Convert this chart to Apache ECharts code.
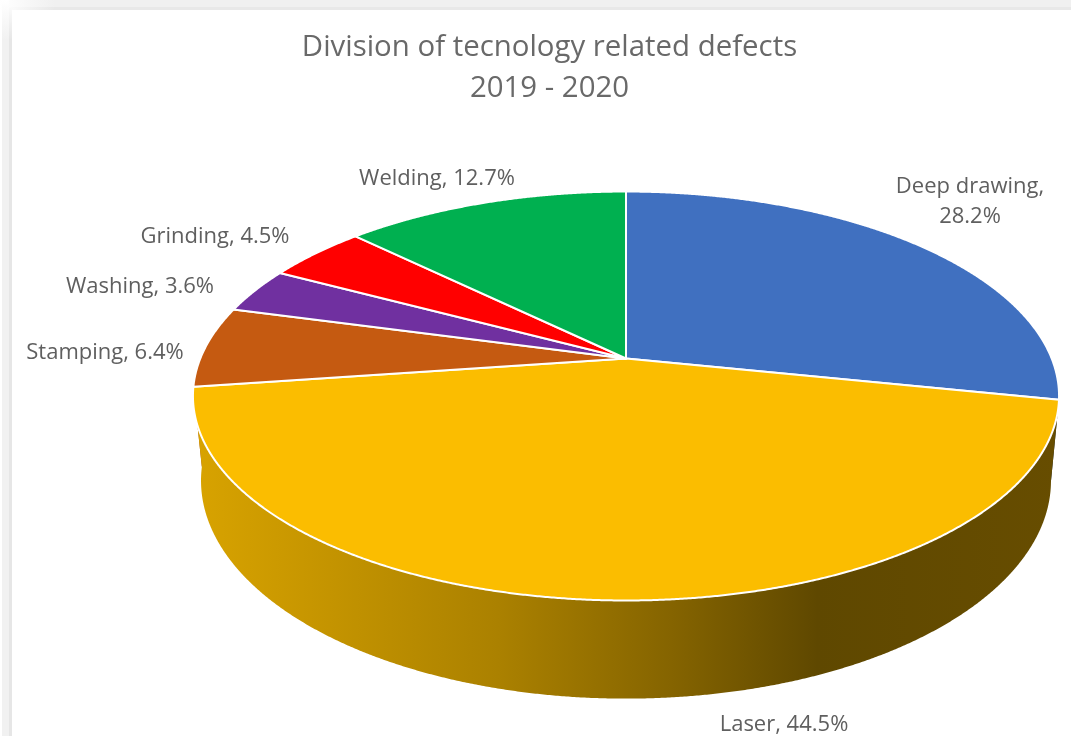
<!DOCTYPE html>
<html>
<head>
<meta charset="utf-8">
<style>html,body{margin:0;padding:0;background:#fff}#c{width:1071px;height:736px}</style>
<script src="https://cdn.jsdelivr.net/npm/echarts@6/dist/echarts.min.js"></script>
</head>
<body>
<div id="c"></div>
<script>
var categories = ['Deep drawing', 'Laser', 'Stamping', 'Washing', 'Grinding', 'Welding'];
var shares = [28.2, 44.5, 6.4, 3.6, 4.5, 12.7];
var colors = ['#4070C0', '#FBBD00', '#C55A11', '#7030A0', '#FF0000', '#00B050'];
var titleLines = ['Division of tecnology related defects', '2019 - 2020'];

// Perspective disc layout (top face and lower face of the cylinder)
var topFace = {cx: 626, cy: 358.5, a: 425.7, b: 197.6, k: 0.1834};
var lowFace = {cx: 626, cy: 437, a: 416.4, b: 209.3, k: 0.2};
// Label anchors, in category order; text is centred on them
var labelAnchors = [[970, 202], [784, 725], [105, 353], [140, 287], [215, 237], [437, 179]];
// Shading of the rim across the page, as brightness factors of the slice colour
var rimStops = [[0, 0.86], [0.35, 0.68], [0.55, 0.53], [0.72, 0.38], [1, 0.41]];

var total = shares.reduce(function (s, v) { return s + v; }, 0);
var starts = [];
shares.reduce(function (s, v, i) { starts[i] = s; return s + v; }, 0);

function project(face, theta) {
  var u = Math.sin(theta), v = Math.cos(theta), d = 1 + face.k * v;
  return [face.cx + face.a * u / d, face.cy - face.b * v / d];
}
function arc(face, t0, t1) {
  var n = Math.max(2, Math.ceil((t1 - t0) / 0.004)), pts = [];
  for (var i = 0; i <= n; i++) pts.push(project(face, t0 + (t1 - t0) * i / n));
  return pts;
}
function shade(hex, f) {
  var c = parseInt(hex.slice(1), 16);
  var ch = [(c >> 16) & 255, (c >> 8) & 255, c & 255].map(function (x) { return Math.round(x * f); });
  return 'rgb(' + ch.join(',') + ')';
}
function range(api) {
  var t0 = api.value(1) / total * 2 * Math.PI;
  return [t0, t0 + api.value(0) / total * 2 * Math.PI];
}
var sliceData = shares.map(function (v, i) { return {name: categories[i], value: [v, starts[i]]}; });

var option = {
  animation: false,
  backgroundColor: '#fff',
  title: {
    text: titleLines.join('\n'),
    left: 544.5, top: 22, textAlign: 'center',
    textStyle: {fontFamily: 'Open Sans', fontSize: 29.4, fontWeight: 'normal', color: '#696969', lineHeight: 41}
  },
  graphic: [
    {type: 'rect', silent: true, z: -10, shape: {x: 0, y: 0, width: 1071, height: 7},
      style: {fill: new echarts.graphic.LinearGradient(0, 0, 55, 0, [{offset: 0, color: '#fff'}, {offset: 1, color: '#f0f0f0'}], true)}},
    {type: 'rect', silent: true, z: -10, shape: {x: 0, y: 7, width: 1071, height: 3},
      style: {fill: new echarts.graphic.LinearGradient(0, 0, 55, 0, [{offset: 0, color: '#fff'}, {offset: 1, color: '#e8e8e8'}], true)}},
    {type: 'rect', silent: true, z: -10, shape: {x: 2, y: 0, width: 7, height: 736},
      style: {fill: new echarts.graphic.LinearGradient(0, 0, 0, 40, [{offset: 0, color: '#fff'}, {offset: 1, color: '#f1f1f1'}], true)}},
    {type: 'rect', silent: true, z: -10, shape: {x: 9, y: 8, width: 3, height: 728},
      style: {fill: new echarts.graphic.LinearGradient(0, 0, 0, 40, [{offset: 0, color: '#fff'}, {offset: 1, color: '#e6e6e6'}], true)}}
  ],
  series: [
    {
      type: 'custom', coordinateSystem: 'none', z: 1, silent: true, clip: false, data: sliceData,
      renderItem: function (params, api) {
        var r = range(api), i = params.dataIndex;
        var pts = arc(topFace, r[0], r[1]).concat(arc(lowFace, r[0], r[1]).reverse());
        var fill = new echarts.graphic.LinearGradient(195, 0, 1060, 0, rimStops.map(function (s) {
          return {offset: s[0], color: shade(colors[i], s[1])};
        }), true);
        return {type: 'polygon', z2: Math.round(-Math.cos((r[0] + r[1]) / 2) * 100), shape: {points: pts}, style: {fill: fill}};
      }
    },
    {
      type: 'custom', coordinateSystem: 'none', z: 2, silent: true, clip: false, data: sliceData,
      renderItem: function (params, api) {
        var r = range(api);
        var pts = [[topFace.cx, topFace.cy]].concat(arc(topFace, r[0], r[1]));
        return {type: 'polygon', shape: {points: pts}, style: {fill: colors[params.dataIndex], stroke: '#fff', lineWidth: 2, lineJoin: 'round'}};
      }
    },
    {
      type: 'custom', coordinateSystem: 'none', z: 3, silent: true, clip: false, data: sliceData,
      renderItem: function (params, api) {
        var i = params.dataIndex, p = labelAnchors[i];
        var sep = i === 0 ? ',\n' : ', ';
        return {
          type: 'text',
          x: p[0], y: p[1],
          style: {
            text: categories[i] + sep + api.value(0).toFixed(1) + '%',
            align: 'center', verticalAlign: 'middle',
            fontFamily: 'Open Sans', fontSize: 22, lineHeight: 30, fill: '#5f5f5f'
          }
        };
      }
    }
  ]
};
var chart = echarts.init(document.getElementById('c'), null, {renderer: 'canvas'});
chart.setOption(option);
</script>
</body>
</html>
